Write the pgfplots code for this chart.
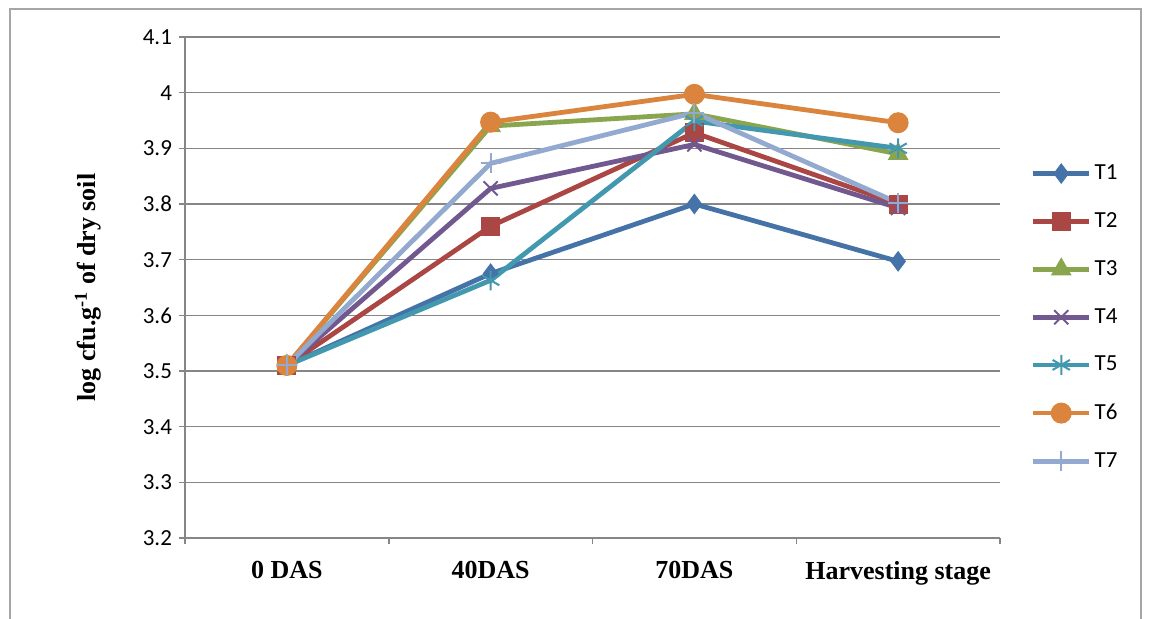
\documentclass[border=0pt]{standalone}
\usepackage{pgfplots}
\pgfplotsset{compat=1.18}
\usepackage{fontspec}
\setmainfont{Carlito}
\newfontfamily\tnr{Liberation Serif}
\definecolor{cA}{HTML}{4572A7}
\definecolor{cB}{HTML}{AA4643}
\definecolor{cC}{HTML}{89A54E}
\definecolor{cD}{HTML}{71588F}
\definecolor{cE}{HTML}{4198AF}
\definecolor{cF}{HTML}{DB843D}
\definecolor{cG}{HTML}{93A9CF}
\definecolor{axgray}{HTML}{868686}
\definecolor{framegray}{HTML}{A6A6A6}
\begin{document}
\begin{tikzpicture}
\useasboundingbox (0,0) rectangle (574.5pt,309.5pt);
\fill[white] (0,0) rectangle (574.5pt,309.5pt);
\draw[framegray, line width=0.75pt] (5pt,-2pt) -- (5pt,305pt) -- (570.5pt,305pt) -- (570.5pt,-2pt);
\begin{axis}[
  at={(92.5pt,40.5pt)}, anchor=south west,
  scale only axis, width=407.5pt, height=250.5pt,
  xmin=-0.5, xmax=3.5, ymin=3.2, ymax=4.1,
  axis lines=left, axis line style={-, draw=axgray, line width=0.75pt},
  xtick={-0.5,0.5,1.5,2.5,3.5}, xticklabels={},
  extra x ticks={0,1,2,3},
  extra x tick labels={0 DAS,40DAS,70DAS,Harvesting stage},
  extra x tick style={major tick length=0pt},
  ytick={3.2,3.3,3.4,3.5,3.6,3.7,3.8,3.9,4.0,4.1},
  tick align=outside, major tick length=3pt,
  tick style={draw=axgray, line width=0.75pt},
  ymajorgrids, grid style={draw=axgray, line width=0.75pt},
  /pgf/number format/assume math mode=true,
  yticklabel style={font=\fontsize{11.5}{13}\selectfont, text=black},
  xticklabel style={font=\tnr\bfseries\fontsize{13}{15}\selectfont, text=black, yshift=-8pt},
  every axis y label/.style={at={(rel axis cs:0,0.5)}, xshift=-48.5pt, rotate=90, anchor=center, font=\tnr\bfseries\fontsize{13}{15}\selectfont},
  ylabel={log cfu.g\textsuperscript{-1} of dry soil},
  clip=false,
  legend style={at={(rel axis cs:1.03,0.762)}, anchor=north west, draw=none, fill=none,
    font=\fontsize{11.5}{13}\selectfont, row sep=11pt, nodes={inner xsep=1.5pt}},
  legend cell align=left,
  legend image code/.code={\draw[mark repeat=2,mark phase=2] plot coordinates {(0pt,0pt)(14pt,0pt)(28pt,0pt)};},
  every axis plot/.append style={line width=2.4pt},
]
\addplot[cA, mark=diamond*, mark size=4.8pt, mark options={solid, line width=0.5pt}] coordinates {(0,3.51)(1,3.675)(2,3.80)(3,3.697)};
\addplot[cB, mark=square*, mark size=4.5pt, mark options={solid, line width=0.5pt}] coordinates {(0,3.51)(1,3.76)(2,3.928)(3,3.80)};
\addplot[cC, mark=triangle*, mark size=5.5pt, mark options={solid, line width=0.5pt}] coordinates {(0,3.51)(1,3.94)(2,3.962)(3,3.89)};
\addplot[cD, mark=x, mark size=5pt, mark options={solid, line width=1pt}] coordinates {(0,3.51)(1,3.828)(2,3.907)(3,3.793)};
\addplot[cE, mark=asterisk, mark size=5pt, mark options={solid, line width=1pt}] coordinates {(0,3.51)(1,3.663)(2,3.949)(3,3.90)};
\addplot[cF, mark=*, mark size=5pt, mark options={solid, line width=0.5pt}] coordinates {(0,3.51)(1,3.947)(2,3.997)(3,3.946)};
\addplot[cG, mark=+, mark size=5pt, mark options={solid, line width=1pt}] coordinates {(0,3.51)(1,3.873)(2,3.964)(3,3.802)};
\legend{T1,T2,T3,T4,T5,T6,T7}
\end{axis}
\end{tikzpicture}
\end{document}
